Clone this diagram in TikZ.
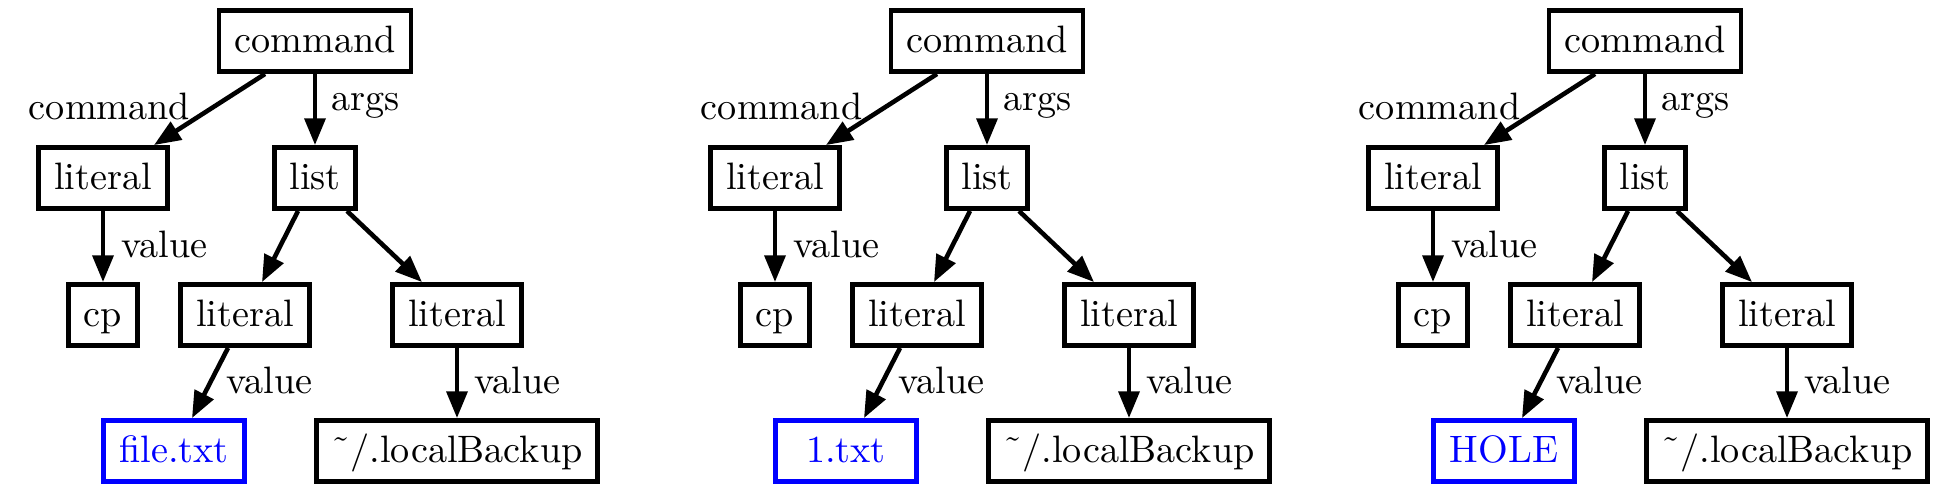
\documentclass[tikz,border=0pt]{standalone}
\usetikzlibrary{arrows.meta,calc}
\begin{document}
\begin{tikzpicture}[x=0.2618pt,y=-0.2618pt,
  box/.style={draw,line width=1.25pt,minimum height=16pt,inner xsep=4pt,inner ysep=3pt,text height=7pt,text depth=1pt},
  holebox/.style={box,draw=blue,text=blue,minimum width=37pt},
  edge/.style={line width=1.2pt,-{Triangle[length=7pt,width=5.4pt]}},
  lbl/.style={inner sep=0pt}]
\useasboundingbox (0,0) rectangle (1946,496);
\foreach \p/\dx/\t in {a/0/file.txt,b/672/1.txt,c/1330/HOLE}{
  \begin{scope}[xshift=\dx*0.2618pt]
    \node[box] (\p cmd) at (315,41) {command};
    \node[box] (\p l1) at (103,178) {literal};
    \node[box] (\p list) at (315,178) {list};
    \node[box] (\p cp) at (103,315) {cp};
    \node[box] (\p l2) at (245,315) {literal};
    \node[box] (\p l3) at (457,315) {literal};
    \node[holebox] (\p hole) at (174,451) {\t};
    \node[box] (\p lb) at (457,451) {\char"02DC/.localBackup};
    \draw[edge] ($(\p cmd.south)+(-50,0)$) -- ($(\p l1.north)+(51,0)$);
    \draw[edge] (\p cmd.south) -- (\p list.north);
    \draw[edge] (\p l1.south) -- (\p cp.north);
    \draw[edge] ($(\p list.south)+(-17,0)$) -- ($(\p l2.north)+(17,0)$);
    \draw[edge] ($(\p list.south)+(32,0)$) -- ($(\p l3.north)+(-35,0)$);
    \draw[edge] ($(\p l2.south)+(-17,0)$) -- ($(\p hole.north)+(18,0)$);
    \draw[edge] (\p l3.south) -- (\p lb.north);
    \node[lbl,anchor=base east] (\p t1) at (191,119) {command};
    \node[lbl,anchor=base west] (\p t2) at (331,110) {args};
    \node[lbl,anchor=base west] (\p t3) at (121,257) {value};
    \node[lbl,anchor=base west] (\p t4) at (226,393) {value};
    \node[lbl,anchor=base west] (\p t5) at (474,393) {value};
  \end{scope}
}
\end{tikzpicture}
\end{document}
